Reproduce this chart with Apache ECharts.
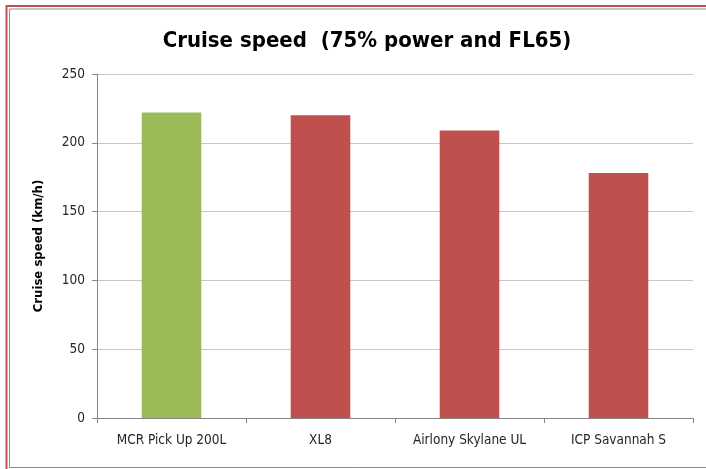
<!DOCTYPE html>
<html>
<head>
<meta charset="utf-8">
<script src="https://cdn.jsdelivr.net/npm/echarts@6/dist/echarts.min.js"></script>
<style>
  html, body { margin: 0; padding: 0; background: #fff; }
  #chart { width: 706px; height: 469px; }
</style>
</head>
<body>
<div id="chart"></div>
<script>
var categories = ['MCR Pick Up 200L', 'XL8', 'Airlony Skylane UL', 'ICP Savannah S'];
var speeds = [222, 220, 209, 178];
var barColors = ['#9bbb59', '#c0504d', '#c0504d', '#c0504d'];

var fontName = '"Liberation Sans Narrow", "DejaVu Sans Condensed", sans-serif';
var chart = echarts.init(document.getElementById('chart'));

var option = {
    backgroundColor: '#fff',
    animation: false,
    title: {
        text: 'Cruise speed  (75% power and FL65)',
        left: 362,
        textAlign: 'center',
        top: 25,
        textStyle: {
            fontFamily: fontName,
            fontSize: 22,
            fontWeight: 'bold',
            color: '#000'
        }
    },
    grid: { left: 97, right: 13, top: 74, bottom: 51 },
    xAxis: {
        type: 'category',
        data: categories,
        axisLine: { lineStyle: { color: '#868686' } },
        axisTick: { show: true, length: 5, lineStyle: { color: '#868686' } },
        axisLabel: {
            margin: 15,
            fontFamily: fontName,
            fontSize: 13.5,
            color: '#262626'
        }
    },
    yAxis: {
        type: 'value',
        min: 0,
        max: 250,
        interval: 50,
        name: 'Cruise speed (km/h)',
        nameLocation: 'middle',
        nameGap: 52,
        nameTextStyle: {
            fontFamily: fontName,
            fontSize: 13,
            fontWeight: 'bold',
            color: '#000'
        },
        axisLine: { show: true, lineStyle: { color: '#868686' } },
        axisTick: { show: true, length: 5, lineStyle: { color: '#868686' } },
        splitLine: { lineStyle: { color: '#c8c8c8' } },
        axisLabel: {
            margin: 12,
            fontFamily: fontName,
            fontSize: 13.5,
            color: '#262626'
        }
    },
    series: [{
        type: 'bar',
        barWidth: '40%',
        data: speeds.map(function (v, i) {
            return { value: v, itemStyle: { color: barColors[i] } };
        })
    }],
    graphic: [
        // outer red frame (cut off at right and bottom)
        {
            type: 'polyline',
            shape: { points: [[6.5, 469], [6.5, 6], [706, 6]] },
            style: { fill: 'none', stroke: '#c0504d', lineWidth: 2 },
            z: 100
        },
        // inner gray frame
        {
            type: 'polyline',
            shape: { points: [[706, 467.5], [9.5, 467.5], [9.5, 9], [706, 9]] },
            style: { fill: 'none', stroke: '#8c8c8c', lineWidth: 1 },
            z: 100
        }
    ]
};

chart.setOption(option);
</script>
</body>
</html>
